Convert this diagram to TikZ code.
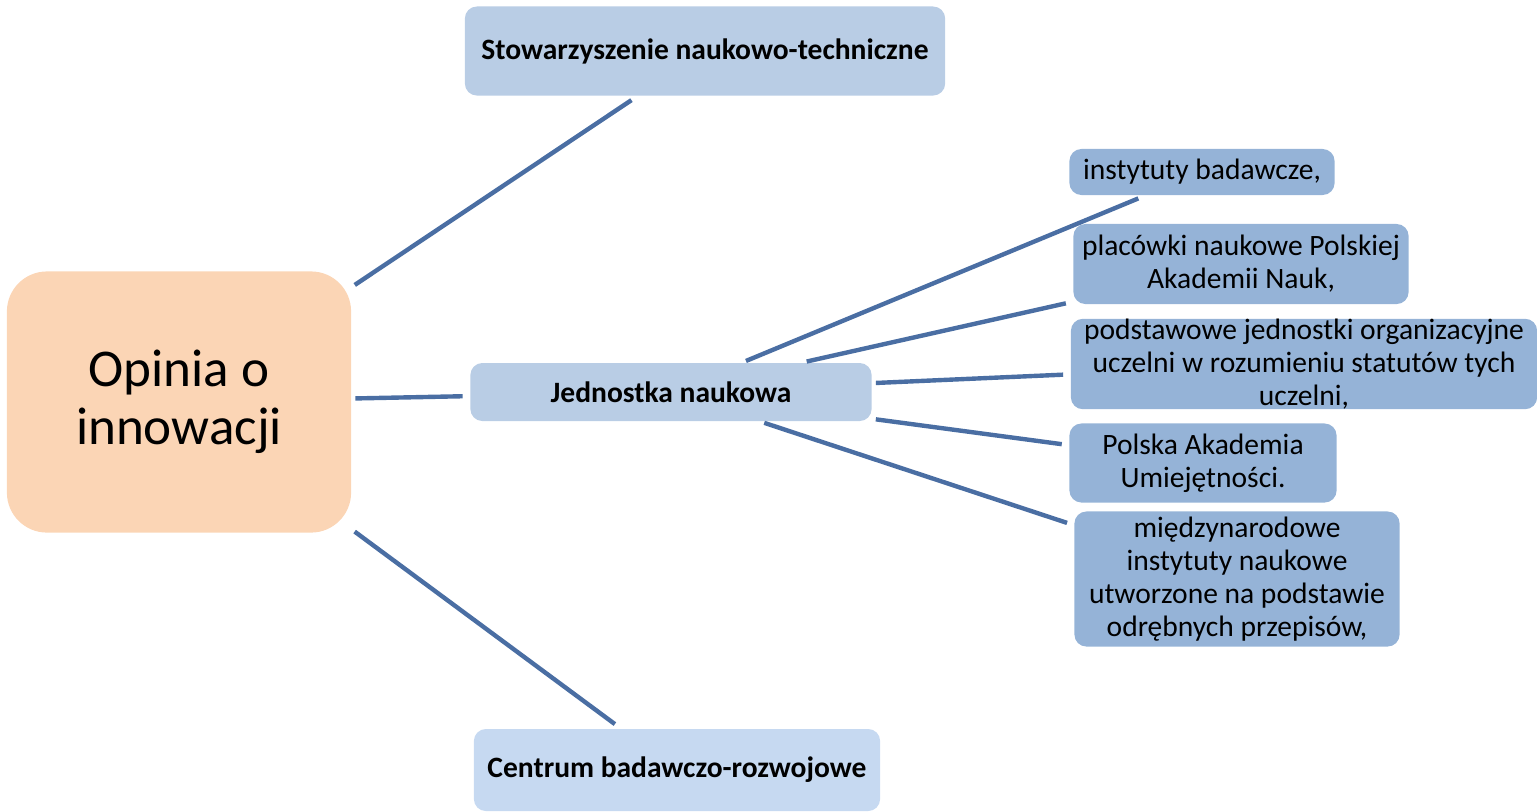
\documentclass[tikz,border=0pt]{standalone}
\usepackage{fontspec}
\setmainfont{Carlito}
\usepackage{xcolor}
\usetikzlibrary{calc}
\usetikzlibrary{positioning}

\definecolor{peach}{HTML}{FBD5B5}
\definecolor{paleblue}{HTML}{B9CDE5}
\definecolor{lightblue}{HTML}{C6D9F1}
\definecolor{midblue}{HTML}{95B3D7}
\definecolor{linkblue}{HTML}{4A6EA3}

\begin{document}
\begin{tikzpicture}[x=0.01cm, y=-0.01cm,
    mainbox/.style={rectangle, rounded corners=0.12cm, fill=paleblue, align=center, inner sep=0pt, font=\fontsize{8.4}{10}\selectfont\bfseries},
    subbox/.style={rectangle, rounded corners=0.12cm, fill=midblue, align=center, inner sep=0pt, font=\fontsize{8.4}{9.4}\selectfont},
    link/.style={draw=linkblue, line width=1.25pt, shorten <=1pt, shorten >=2pt}]
    \useasboundingbox (0,0) rectangle (1537,811);

    \node [rectangle, rounded corners=0.4cm, fill=peach, minimum width=3.44cm, minimum height=2.61cm, align=center, font=\fontsize{15.1}{16.6}\selectfont] (opinia) at (179,402) {Opinia o\\innowacji};

    \node [mainbox, minimum width=4.80cm, minimum height=0.89cm] (stow) at (705,51) {Stowarzyszenie naukowo-techniczne};
    \node [mainbox, minimum width=4.01cm, minimum height=0.58cm] (jedn) at (671,392) {Jednostka naukowa};
    \node [mainbox, fill=lightblue, minimum width=4.06cm, minimum height=0.82cm] (centrum) at (677,770) {Centrum badawczo-rozwojowe};

    \node [subbox, minimum width=2.65cm, minimum height=0.46cm] (inst) at (1202,172) {instytuty badawcze,};
    \node [subbox, minimum width=3.35cm, minimum height=0.80cm] (plac) at (1241,264) {placówki naukowe Polskiej\\Akademii Nauk,};
    \node [subbox, minimum width=4.66cm, minimum height=0.89cm] (podst) at (1304,364) {podstawowe jednostki organizacyjne\\uczelni w rozumieniu statutów tych\\uczelni,};
    \node [subbox, minimum width=2.67cm, minimum height=0.79cm] (pau) at (1203,463) {Polska Akademia\\Umiejętności.};
    \node [subbox, minimum width=3.25cm, minimum height=1.35cm] (miedzy) at (1237,579) {międzynarodowe\\instytuty naukowe\\utworzone na podstawie\\odrębnych przepisów,};

    \draw [link] (opinia) -- (stow);
    \draw [link] (opinia) -- (jedn);
    \draw [link] (opinia) -- (centrum);

    \draw [link] (jedn) -- (inst);
    \draw [link] (jedn) -- (plac);
    \draw [link] (jedn) -- (podst);
    \draw [link] (jedn) -- (pau);
    \draw [link] (jedn) -- (miedzy);
\end{tikzpicture}
\end{document}
